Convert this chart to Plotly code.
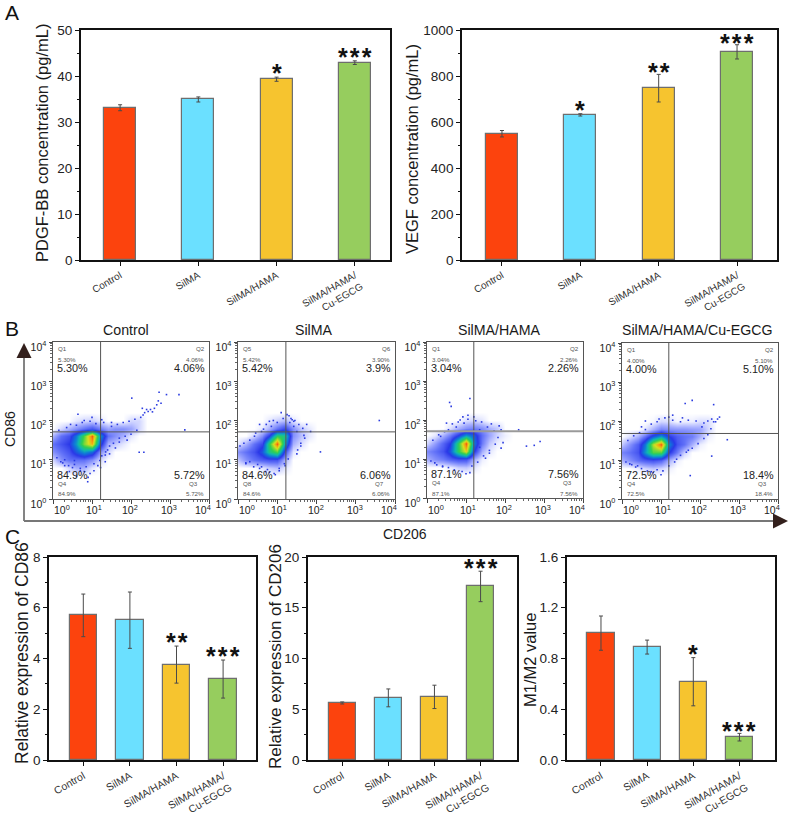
import math
import plotly.graph_objects as go

W, H = 790, 818
FONT = "Liberation Sans"

categories = ["Control", "SilMA", "SilMA/HAMA", "SilMA/HAMA/<br>Cu-EGCG"]
bar_colors = ["#FC430D", "#6BE0FF", "#F6C42F", "#96CD5E"]

pdgf_values = [33.1, 34.9, 39.3, 42.9]
pdgf_errors = [0.65, 0.55, 0.45, 0.4]
pdgf_stars = ["", "", "*", "***"]
pdgf_star_y = [0, 0, 41.5, 44.9]

vegf_values = [549, 631, 747, 905]
vegf_errors = [14, 5, 60, 31]
vegf_stars = ["", "*", "**", "***"]
vegf_star_y = [0, 670, 836, 961]

cd86_values = [5.7, 5.51, 3.76, 3.19]
cd86_errors = [0.84, 1.11, 0.73, 0.75]
cd86_stars = ["", "", "**", "***"]
cd86_star_y = [0, 0, 4.79, 4.24]

cd206_values = [5.62, 6.12, 6.22, 17.1]
cd206_errors = [0.1, 0.88, 1.15, 1.5]
cd206_stars = ["", "", "", "***"]
cd206_star_y = [0, 0, 0, 19.3]

m1m2_values = [1.0, 0.89, 0.617, 0.18]
m1m2_errors = [0.135, 0.055, 0.19, 0.03]
m1m2_stars = ["", "", "*", "***"]
m1m2_star_y = [0, 0, 0.87, 0.262]

# density grids (log10 CD206 across, log10 CD86 down the rows)
grid_x = [0, 0.2, 0.4, 0.6, 0.8, 1.0, 1.2, 1.4, 1.6, 1.8, 2.0, 2.2, 2.4]
grid_y = [0.6, 0.8, 1.0, 1.2, 1.4, 1.6, 1.8, 2.0, 2.2]

density_control = [
    [0, 0, 0, 0, 0, 0, 0, 0, 0, 0, 0, 0, 0],
    [0, 0, .5, 1, 1, .3, 0, 0, 0, 0, 0, 0, 0],
    [.5, 1.5, 2, 2, 2, 1.5, .5, 0, 0, 0, 0, 0, 0],
    [1.5, 2, 2.5, 3.5, 4.5, 3.8, 1.5, .5, 0, 0, 0, 0, 0],
    [2, 2.5, 3, 4.5, 7, 8.5, 3.5, 1, .7, .3, 0, 0, 0],
    [1, 2, 2.5, 4, 6.5, 9.5, 4.5, 2, 1.5, 1, .3, 0, 0],
    [0, .5, 1, 1.5, 2, 2.5, 1.8, 1.2, 1.5, 1.5, 1.2, .5, 0],
    [0, 0, 0, .3, .5, .6, .3, 0, 0, 0, .5, .5, 0],
    [0, 0, 0, 0, 0, 0, 0, 0, 0, 0, 0, 0, 0],
]
density_silma = [
    [0, 0, 0, 0, 0, 0, 0, 0, 0, 0, 0, 0, 0],
    [0, 0, 0, .3, .6, .8, .3, 0, 0, 0, 0, 0, 0],
    [.7, 1.5, 2, 2.3, 2.5, 2.5, 1, 0, 0, 0, 0, 0, 0],
    [1.5, 2, 2.5, 3.5, 5.5, 6.5, 2.5, .3, 0, 0, 0, 0, 0],
    [.3, 1, 2, 2.7, 6, 9.5, 4.5, 1, .4, 0, 0, 0, 0],
    [0, 0, .5, 1.5, 3, 6, 5.5, 1.5, .8, .3, 0, 0, 0],
    [0, 0, 0, .3, 1, 2, 2.8, 1.5, .7, .3, 0, 0, 0],
    [0, 0, 0, 0, .3, .6, .9, .3, 0, 0, 0, 0, 0],
    [0, 0, 0, 0, 0, 0, 0, 0, 0, 0, 0, 0, 0],
]
density_hama = [
    [0, 0, 0, 0, 0, 0, 0, 0, 0, 0, 0, 0, 0],
    [0, 0, 0, .2, .6, .7, .3, 0, 0, 0, 0, 0, 0],
    [1, 1.5, 1.8, 2.2, 2.5, 2.5, 1, .2, 0, 0, 0, 0, 0],
    [1.6, 2, 2.5, 3.5, 6, 8, 3, 1, .3, 0, 0, 0, 0],
    [.5, 1.3, 2.2, 3, 6, 9.5, 4, 1.8, .7, .2, 0, 0, 0],
    [0, .3, 1, 1.8, 3, 4.5, 3.5, 2, 1.2, .5, .2, 0, 0],
    [0, 0, 0, .4, 1, 1.5, 1.8, 1.5, 1, .7, 0, 0, 0],
    [0, 0, 0, 0, 0, .4, .5, .3, 0, 0, 0, 0, 0],
    [0, 0, 0, 0, 0, 0, 0, 0, 0, 0, 0, 0, 0],
]
density_egcg = [
    [0, 0, 0, 0, 0, 0, 0, 0, 0, 0, 0, 0, 0],
    [0, 0, .2, .5, .7, .5, .2, 0, 0, 0, 0, 0, 0],
    [1, 1.5, 2, 2.3, 2.5, 2.2, 1, .2, 0, 0, 0, 0, 0],
    [1.7, 2, 2.5, 4.5, 6.5, 6.5, 3, 1.8, .6, 0, 0, 0, 0],
    [.7, 1.5, 2.3, 4, 7.5, 9.5, 4.2, 2.5, 2, 1, .2, 0, 0],
    [0, .4, 1, 2, 3.5, 4.5, 3, 2.3, 2, 1.8, 1, .2, 0],
    [0, 0, 0, .3, 1, 1.7, 1.5, 1.4, 1.4, 1.3, 1.2, .5, 0],
    [0, 0, 0, 0, .1, .5, .4, .1, .2, .2, .4, .4, 0],
    [0, 0, 0, 0, 0, 0, 0, 0, 0, 0, 0, 0, 0],
]

# scattered single events (log10 x, log10 y)
dots_control_x = [2.31, 2.44, 2.6, 2.72, 2.77, 2.91, 3.23, 2.02, 2.29, 2.21, 2.33, .64, 1.0, 1.34, .89, 3.38, 1.34,
                  2.5, 2.55, 2.66, 2.7, 2.35, 2.4, 1.45, 1.6, 1.7, 1.9, .3, .5, .7, .2, .95, 1.15, .45, .75, 1.3, 1.5,
                  .1, .25, .4, .55, .7, .85, 1.05, 1.2, .15, .35, .6, .8, .95, 1.1, 1.25, .3, .55, .8, 1.05, 1.25, 1.4,
                  1.55, 1.7, 1.85, 2.0, 2.15, 1.5, 1.65, 1.8, 1.95, 2.1, 2.25, 1.35, 1.45, .6, .42, .9, 1.22]
dots_control_y = [2.14, 2.23, 2.31, 2.72, 2.44, 2.66, 2.66, 2.57, 2.31, 1.19, 1.19, 2.16, 2.08, .95, .44, 1.76, 1.12,
                  2.28, 2.22, 2.4, 2.5, 2.2, 2.28, 1.15, 1.3, 1.45, 1.5, .85, .8, .72, .95, .65, .85, 1.9, 1.95, 1.95, 1.95,
                  1.05, .92, .85, .88, .78, .82, .9, .98, 1.75, 1.82, 1.88, 2.0, 1.98, 1.92, 2.02, 1.0, .98, .7, .72, 1.1, 1.25,
                  1.42, 1.55, 1.6, 1.65, 1.75, 1.85, 1.9, 1.95, 1.98, 2.03, 2.08, 1.2, 1.35, .58, .7, .55, .8]
dots_silma_x = [3.6, 2.1, 1.85, 1.75, 1.6, .95, 1.1, 1.35, .9, .55, .3, 1.5, 1.7, .6, .75, 1.05, 1.2, 1.45, .2, .5,
                .05, .15, .3, .42, .2, .4, .55, .7, .6, .45, .85, 1.0, 1.15, 1.3, 1.42, 1.55, 1.65, 1.52, 1.6, 1.68,
                .8, .92, 1.05, 1.18, 1.28, .72, .65, .8, 1.32, 1.42, 1.5, 1.25, 1.38]
dots_silma_y = [2.0, 1.2, 1.72, 1.9, 1.35, .62, 2.2, 2.05, 2.0, 1.9, .95, 1.15, 1.55, .82, .75, .72, .85, 2.0, .9, .88,
                1.35, 1.42, 1.5, 1.6, .92, .82, .78, .7, 1.72, 1.68, 1.85, 1.95, 2.05, 2.12, 1.85, 1.9, 1.8, 1.25, 1.42, 1.62,
                .68, .65, .78, .9, 1.02, 1.9, 1.78, 1.98, 1.95, 1.98, 1.72, 2.15, 2.02]
dots_hama_x = [.58, .62, 1.1, 1.35, 1.9, 2.35, 2.9, 2.55, 2.75, 1.85, 1.6, 1.9, .5, .85, 1.1, 1.5, 1.95, .4, .2,
               .1, .25, .4, .55, .7, .9, 1.0, 1.15, 1.3, 1.45, 1.6, 1.75, 1.82, .3, .55, .75, .95, .65, .8, 1.05, 1.2,
               .15, .35, .45, 1.65, 1.72, 1.55, 1.4, 1.25, 1.35, 1.05, .92]
dots_hama_y = [2.45, 2.35, 2.55, 1.3, 1.75, 1.75, 1.45, 1.33, 1.35, 1.85, 1.15, 1.28, 1.92, 2.0, .65, 1.02, 1.42, .82, .9,
               .95, .85, .8, .78, .72, .68, .62, .82, .92, 1.08, 1.22, 1.38, 1.55, 1.62, 1.75, 1.82, 1.92, 1.9, 1.95, 2.02, 2.08,
               1.48, 1.58, 1.7, 1.9, 1.72, 1.82, 1.95, 1.98, 1.75, 2.12, 2.08]
dots_egcg_x = [1.62, 1.8, 2.35, 2.5, 2.3, 2.35, 2.7, 1.75, 2.3, 1.7, .6, .9, 1.2, 1.0, .4, .8, 1.4, 2.1, 1.9, .25,
               .1, .2, .35, .5, .65, .75, .9, 1.05, 1.2, 1.35, 1.5, 1.65, 1.8, 1.95, 2.1, 2.2, 2.28, 2.4, 2.45, 2.2,
               .3, .45, .6, .75, .95, 1.1, 1.3, 1.5, 1.7, 1.55, 1.3, 2.05, .15, .5]
dots_egcg_y = [2.45, 2.53, 2.42, 2.1, 2.05, 1.98, 1.52, .6, 1.1, 1.25, 2.0, 1.98, 2.1, .62, .85, .68, 1.02, 1.95, 2.0, .88,
               .95, .9, .82, .78, .72, .7, .75, .72, .85, .95, 1.12, 1.2, 1.3, 1.42, 1.55, 1.65, 1.8, 1.98, 2.05, 2.0,
               1.62, 1.7, 1.78, 1.92, 2.05, 2.08, 2.02, 1.98, 2.02, 2.08, 2.15, 1.85, 1.5, 1.85]

flow_titles = ["Control", "SilMA", "SilMA/HAMA", "SilMA/HAMA/Cu-EGCG"]
flow_q_left_top = ["Q1", "Q5", "Q1", "Q1"]
flow_q_right_top = ["Q2", "Q6", "Q2", "Q2"]
flow_q_left_bottom = ["Q4", "Q8", "Q4", "Q4"]
flow_q_right_bottom = ["Q3", "Q7", "Q3", "Q3"]
big_left_top = ["5.30%", "5.42%", "3.04%", "4.00%"]
big_right_top = ["4.06%", "3.9%", "2.26%", "5.10%"]
big_left_bottom = ["84.9%", "84.6%", "87.1%", "72.5%"]
big_right_bottom = ["5.72%", "6.06%", "7.56%", "18.4%"]
small_left_top = ["5.30%", "5.42%", "3.04%", "4.00%"]
small_right_top = ["4.06%", "3.90%", "2.26%", "5.10%"]
small_left_bottom = ["84.9%", "84.6%", "87.1%", "72.5%"]
small_right_bottom = ["5.72%", "6.06%", "7.56%", "18.4%"]
quad_x = [1.22, 1.22, 1.2, 1.2]
quad_y = [1.71, 1.71, 1.71, 1.68]
log_ticks = [0, 1, 2, 3, 4]
log_tick_text = ["10<sup>0</sup>", "10<sup>1</sup>", "10<sup>2</sup>", "10<sup>3</sup>", "10<sup>4</sup>"]
minor_log_ticks = [d + math.log10(m) for d in range(4) for m in range(2, 10)]

JET = [[0, "#ffffff"], [0.03, "#e4e7ff"], [0.1, "#a8b0ff"], [0.2, "#6070f8"], [0.3, "#2a38e8"], [0.4, "#0f78d8"],
       [0.5, "#10b8b0"], [0.62, "#30d050"], [0.78, "#d8e020"], [0.88, "#f89a10"], [1, "#e83010"]]

fig = go.Figure()
annotations, shapes = [], []


def px(x):
    return x / W


def py(y):
    return 1 - y / H


def note(x, y, text, size, color="#1a1a1a", xanchor="center", yanchor="middle", angle=0, **kw):
    annotations.append(dict(x=px(x), y=py(y), xref="paper", yref="paper", text=text, showarrow=False,
                            font=dict(family=FONT, size=size, color=color), xanchor=xanchor, yanchor=yanchor,
                            textangle=angle, **kw))


def bar_panel(idx, box, xrange, yrange, dtick, values, errors, stars, star_y, width, title, title_pos, title_size,
              tickfont, catfont, tickformat=None):
    l, t, r, b = box
    xname, yname = f"x{idx}", f"y{idx}"
    fig.add_trace(go.Bar(x=categories, y=values, width=width, marker=dict(color=bar_colors, line=dict(color="#6e6e6e", width=1.2)),
                         error_y=dict(type="data", array=errors, color="#4a4a4a", thickness=1, width=2),
                         xaxis=xname, yaxis=yname, showlegend=False))
    fig.layout[f"xaxis{idx}"] = dict(domain=[px(l), px(r)], anchor=yname, range=xrange, type="category",
                                     automargin=False,
                                     categoryorder="array", categoryarray=categories, tickangle=-30,
                                     showline=True, mirror=True, linecolor="#111", linewidth=1.8, ticks="outside",
                                     ticklen=4, tickcolor="#111", tickwidth=1.2, showgrid=False,
                                     tickfont=dict(family=FONT, size=catfont, color="#333"))
    fig.layout[f"yaxis{idx}"] = dict(domain=[py(b), py(t)], anchor=xname, range=yrange, dtick=dtick, tick0=0,
                                     automargin=False,
                                     showline=True, mirror=True, linecolor="#111", linewidth=1.8, ticks="outside",
                                     ticklen=4, tickcolor="#111", tickwidth=1.2, showgrid=False, zeroline=False,
                                     tickformat=tickformat,
                                     minor=dict(ticks="outside", ticklen=2.5, dtick=dtick / 2, tick0=0,
                                                tickcolor="#111", tickwidth=1),
                                     tickfont=dict(family=FONT, size=tickfont, color="#222"))
    for i, s in enumerate(stars):
        if s:
            annotations.append(dict(x=categories[i], y=star_y[i], xref=xname, yref=yname,
                                    text="<b>" + "\u200a".join(s) + "</b>", showarrow=False,
                                    font=dict(family=FONT, size=25, color="#111"), yanchor="middle", yshift=-4))
    note(title_pos[0], title_pos[1], title, title_size, angle=-90)


def flow_panel(idx, n, box, density, dots_x, dots_y):
    l, t, r, b = box
    xname, yname = f"x{idx}", f"y{idx}"
    fig.add_trace(go.Heatmap(x=grid_x, y=grid_y, z=density, zmin=0, zmax=10, colorscale=JET, zsmooth="best",
                             showscale=False, xaxis=xname, yaxis=yname, hoverinfo="skip"))
    fig.add_trace(go.Scatter(x=dots_x, y=dots_y, mode="markers", marker=dict(size=1.6, color="#2a3be0", symbol="square"),
                             xaxis=xname, yaxis=yname, showlegend=False))
    common = dict(range=[0, 4], tickmode="array", tickvals=log_ticks, showline=True, mirror=True,
                  automargin=False,
                  linecolor="#555", linewidth=1, ticks="outside", ticklen=3.5, tickcolor="#444", tickwidth=1,
                  showgrid=False, zeroline=False, tickfont=dict(family=FONT, size=10.5, color="#222"),
                  minor=dict(ticks="outside", tickmode="array", tickvals=minor_log_ticks, ticklen=2,
                             tickcolor="#666", tickwidth=0.8))
    fig.layout[f"xaxis{idx}"] = dict(domain=[px(l), px(r)], anchor=yname, showticklabels=False, **common)
    fig.layout[f"yaxis{idx}"] = dict(domain=[py(b), py(t)], anchor=xname, ticktext=log_tick_text, ticklabelshift=5, **common)
    for tick, label, shift in zip(log_ticks, log_tick_text, [9, 2, -1, -1, -6]):
        note(l + (r - l) * tick / 4 + shift, 509, label, 10.5, color="#222")
    qc = "#9a9a9a" if n == 2 else "#555"
    qw = 2 if n == 2 else 1
    shapes.append(dict(type="line", xref=xname, yref=yname, x0=quad_x[n], x1=quad_x[n], y0=0, y1=4,
                       line=dict(color="#555", width=1)))
    shapes.append(dict(type="line", xref=xname, yref=yname, x0=0, x1=4, y0=quad_y[n], y1=quad_y[n],
                       line=dict(color=qc, width=qw)))
    note([126, 314, 499, 697][n], 330, flow_titles[n], 14.2)
    big, small, g = 10.8, 6.2, "#555"
    note(l + 2, t + 26, big_left_top[n], big, xanchor="left", color="#222")
    note(r - 2, t + 26, big_right_top[n], big, xanchor="right", color="#222")
    note(l + 2, b - 24, big_left_bottom[n], big, xanchor="left", color="#222")
    note(r - 2, b - 24, big_right_bottom[n], big, xanchor="right", color="#222")
    note(l + 3, t + 6, flow_q_left_top[n], small, xanchor="left", color=g)
    note(r - 15, t + 6, flow_q_right_top[n], small, xanchor="left", color=g)
    note(l + 3, t + 17, small_left_top[n], small, xanchor="left", color=g)
    note(r - 3, t + 17, small_right_top[n], small, xanchor="right", color=g)
    note(l + 3, b - 16, flow_q_left_bottom[n], small, xanchor="left", color=g)
    note(r - 22, b - 16, flow_q_right_bottom[n], small, xanchor="left", color=g)
    note(l + 3, b - 5, small_left_bottom[n], small, xanchor="left", color=g)
    note(r - 3, b - 5, small_right_bottom[n], small, xanchor="right", color=g)


bar_panel(1, (81, 30, 390, 260), [-0.5, 3.45], [0, 50], 10, pdgf_values, pdgf_errors, pdgf_stars, pdgf_star_y, 0.41,
          "PDGF-BB concentration (pg/mL)", (42, 143), 16.5, 13.5, 10)
bar_panel(2, (462, 30, 777, 260), [-0.51, 3.51], [0, 1000], 200, vegf_values, vegf_errors, vegf_stars, vegf_star_y, 0.41,
          "VEGF concentration (pg/mL)", (412, 149), 16.5, 13.5, 10)
flow_panel(3, 0, (53, 342, 209, 499), density_control, dots_control_x, dots_control_y)
flow_panel(4, 1, (238, 342, 395, 499), density_silma, dots_silma_x, dots_silma_y)
flow_panel(5, 2, (427, 342, 583, 498), density_hama, dots_hama_x, dots_hama_y)
flow_panel(6, 3, (622, 343, 778, 499), density_egcg, dots_egcg_x, dots_egcg_y)
bar_panel(7, (49, 557, 256, 760), [-0.736, 3.706], [0, 8], 2, cd86_values, cd86_errors, cd86_stars, cd86_star_y, 0.59,
          "Relative expression of CD86", (22, 653), 17.5, 13.5, 10.5)
bar_panel(8, (308, 557, 517, 760), [-0.742, 3.79], [0, 20], 5, cd206_values, cd206_errors, cd206_stars, cd206_star_y, 0.59,
          "Relative expression of CD206", (275, 657), 17, 13.5, 10.5)
bar_panel(9, (567, 557, 775, 760), [-0.736, 3.77], [0, 1.6], 0.4, m1m2_values, m1m2_errors, m1m2_stars, m1m2_star_y, 0.59,
          "M1/M2 value", (530, 660), 16.5, 13.5, 10.5, tickformat=".1f")

note(3, 13, "A", 21, xanchor="left", color="#111")
note(3, 328, "B", 21, xanchor="left", color="#111")
note(3, 536, "C", 21, xanchor="left", color="#111")
note(10, 429, "CD86", 14, angle=-90)
note(405, 534, "CD206", 14)

# frame arrows of the flow block
shapes.append(dict(type="line", xref="paper", yref="paper", x0=px(24), x1=px(24), y0=py(521), y1=py(350),
                   line=dict(color="#777", width=1.8)))
shapes.append(dict(type="line", xref="paper", yref="paper", x0=px(24), x1=px(780), y0=py(521), y1=py(521),
                   line=dict(color="#777", width=1.8)))
annotations.append(dict(x=px(24), y=py(343), ax=0, ay=15, xref="paper", yref="paper",
                        text="", showarrow=True, arrowhead=2, arrowsize=1, arrowwidth=3, arrowcolor="#33201c"))
annotations.append(dict(x=px(788), y=py(521), ax=-15, ay=0, xref="paper", yref="paper",
                        text="", showarrow=True, arrowhead=2, arrowsize=1, arrowwidth=3, arrowcolor="#33201c"))

fig.update_layout(width=W, height=H, margin=dict(l=0, r=0, t=0, b=0), paper_bgcolor="white", plot_bgcolor="white",
                  showlegend=False, annotations=annotations, shapes=shapes, bargap=0)
fig.write_html("out.html", config={"displayModeBar": False}, post_script="document.body.style.margin='0';")
